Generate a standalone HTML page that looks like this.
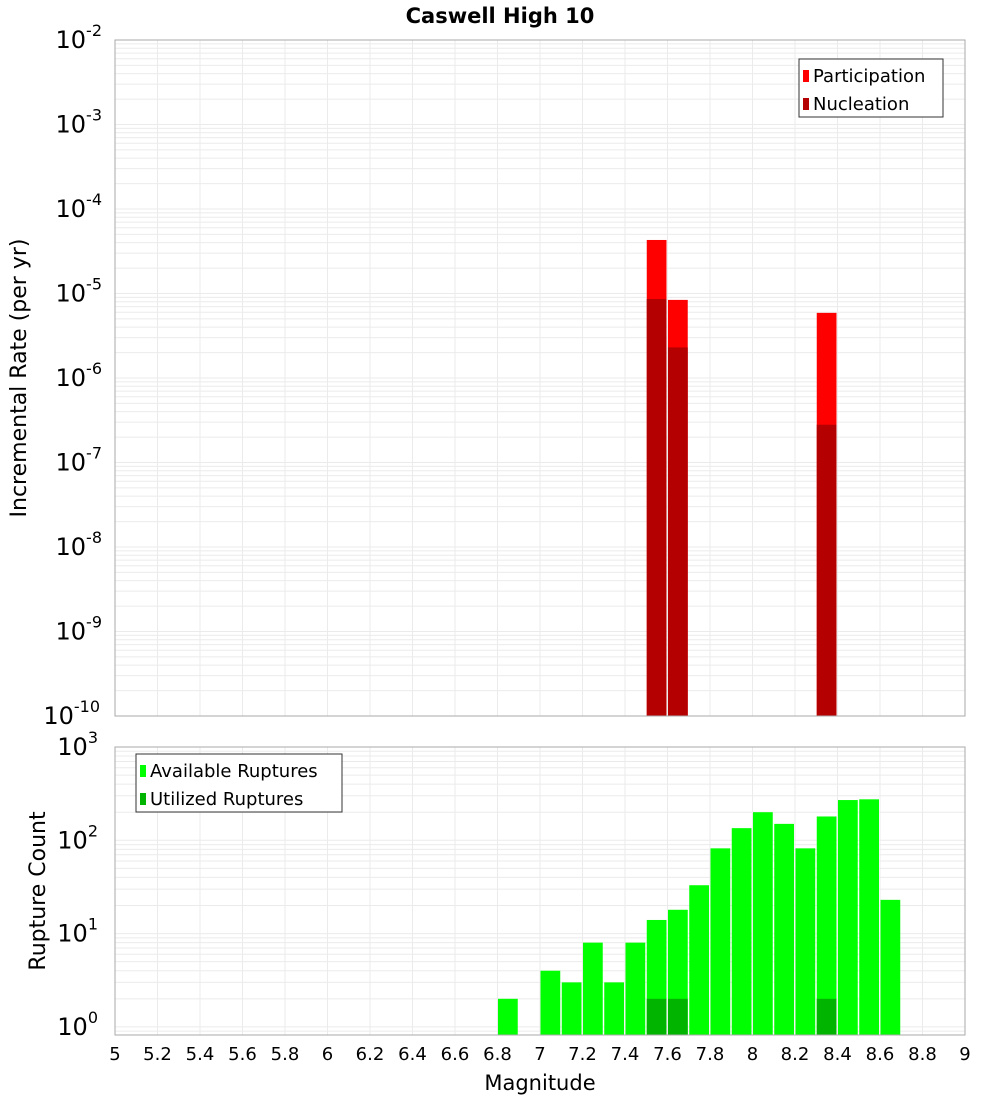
<!DOCTYPE html>
<html><head><meta charset="utf-8"><style>
body{margin:0;background:#fff;font-family:"Liberation Sans","DejaVu Sans",sans-serif}
</style></head><body>
<svg id="c" width="1000" height="1100" xmlns="http://www.w3.org/2000/svg" font-family="DejaVu Sans, Liberation Sans, sans-serif">
<text x="500" y="23" text-anchor="middle" font-size="21" font-weight="bold">Caswell High 10</text>
<g id="g"></g>
</svg>
<script>
const binCenters=[7.55,7.65,8.35];
const participation=[4.3e-5,8.4e-6,5.9e-6];
const nucleation=[8.6e-6,2.3e-6,2.8e-7];
const countBins=[6.85,7.05,7.15,7.25,7.35,7.45,7.55,7.65,7.75,7.85,7.95,8.05,8.15,8.25,8.35,8.45,8.55,8.65];
const available=[2,4,3,8,3,8,14,18,33,82,135,200,150,82,180,270,275,23];
const utilizedBins=[7.55,7.65,8.35];
const utilized=[2,2,2];
const xTicks=[5,5.2,5.4,5.6,5.8,6,6.2,6.4,6.6,6.8,7,7.2,7.4,7.6,7.8,8,8.2,8.4,8.6,8.8,9];

const NS="http://www.w3.org/2000/svg";
const g=document.getElementById('g');
function el(t,a,p){const e=document.createElementNS(NS,t);for(const k in a)e.setAttribute(k,a[k]);(p||g).appendChild(e);return e;}
const X0=115,X1=965;
const x=v=>X0+(v-5)/4*(X1-X0);
const T0=40,T1=716;
const yTop=v=>T0+(-2-Math.log10(v))/8*(T1-T0);
const B0=747,B1=1035,BD=93.3;
const yBot=v=>B0+(3-Math.log10(v))*BD;

function grid(top,bot,yf,dmin,dmax){
  for(let d=dmin;d<dmax;d++)for(let m=1;m<10;m++){const yy=yf(m*Math.pow(10,d));if(yy<top||yy>bot)continue;
    const l=el('line',{x1:X0,x2:X1,y1:yy,y2:yy,stroke:'#ebebeb','stroke-width':1});
    }
  xTicks.forEach(t=>{const l=el('line',{x1:x(t),x2:x(t),y1:top,y2:bot,stroke:'#ebebeb','stroke-width':1});
    });
}
grid(T0,T1,yTop,-10,-2);
grid(B0,B1,yBot,-1,3);
const bw=x(5.1)-x(5);
function bar(c,v,yf,base,col,name){const r=el('rect',{x:x(c-0.05)+0.5,y:yf(v),width:bw-1.5,height:base-yf(v),fill:col});
  }
binCenters.forEach((c,i)=>bar(c,participation[i],yTop,T1,'#ff0000','participation-bar'));
binCenters.forEach((c,i)=>bar(c,nucleation[i],yTop,T1,'#b40000','nucleation-bar'));
countBins.forEach((c,i)=>bar(c,available[i],yBot,B1,'#00ff00','available-bar'));
utilizedBins.forEach((c,i)=>bar(c,utilized[i],yBot,B1,'#00b400','utilized-bar'));
[[T0,T1,'top-plot-frame'],[B0,B1,'bottom-plot-frame']].forEach(f=>{const r=el('rect',{x:X0,y:f[0],width:X1-X0,height:f[1]-f[0],fill:'none',stroke:'#aaa'});
  });
function sup(xx,yy,e,name){const t=el('text',{x:xx,y:yy,'text-anchor':'end','font-size':24});t.textContent='10';
  const s=el('tspan',{dy:-12,'font-size':16});s.textContent=e;t.appendChild(s);
  }
for(let d=-10;d<=-2;d++){const ex=String(d);sup(d===-10?100:102,yTop(Math.pow(10,d))+8,ex,'y-tick-label');}
for(let d=0;d<=3;d++)sup(98,yBot(Math.pow(10,d))+8,String(d),'y-tick-label');
xTicks.forEach(t=>{const s=el('text',{x:x(t),y:1060,'text-anchor':'middle','font-size':18});s.textContent=String(t);
  });
let t=el('text',{x:540,y:1090,'text-anchor':'middle','font-size':21});t.textContent='Magnitude';

t=el('text',{x:26,y:378,'text-anchor':'middle','font-size':22,transform:'rotate(-90 26 378)'});t.textContent='Incremental Rate (per yr)';

t=el('text',{x:45,y:891,'text-anchor':'middle','font-size':22,transform:'rotate(-90 45 891)'});t.textContent='Rupture Count';

function legend(lx,ly,w,items,name){const r=el('rect',{x:lx,y:ly,width:w,height:58,fill:'#fff',stroke:'#333'});
  
  items.forEach((it,i)=>{const s=el('rect',{x:lx+4,y:ly+11+i*28,width:6,height:12,fill:it[1]});
    
    const tx=el('text',{x:lx+14,y:ly+23+i*28,'font-size':18});tx.textContent=it[0];
    });}
legend(799,59,144,[['Participation','#ff0000'],['Nucleation','#b40000']],'top-legend');
legend(136,754,206,[['Available Ruptures','#00ff00'],['Utilized Ruptures','#00b400']],'bottom-legend');
</script>
</body></html>
